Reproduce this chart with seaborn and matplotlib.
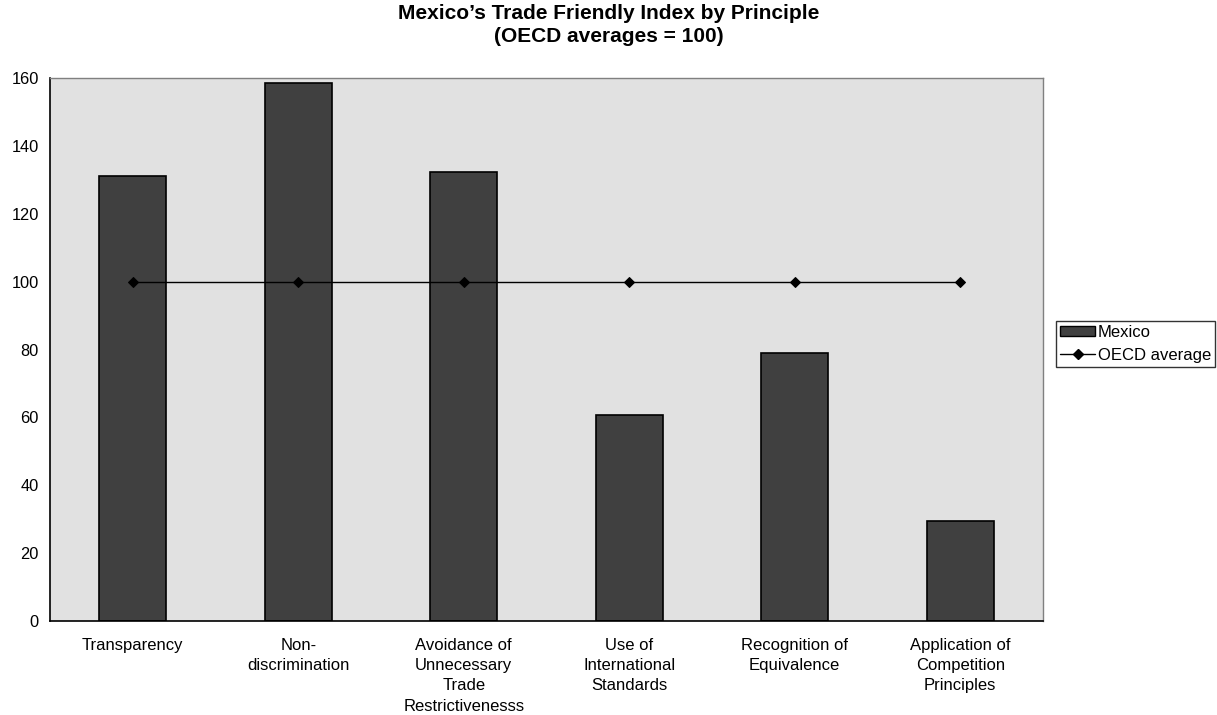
import pandas as pd
import matplotlib.pyplot as plt
import seaborn as sns
from matplotlib.lines import Line2D
from matplotlib.patches import Patch

# Data
principles = ['Transparency', 'Non-\ndiscrimination', 'Avoidance of\nUnnecessary\nTrade\nRestrictivenesss',
              'Use of\nInternational\nStandards', 'Recognition of\nEquivalence',
              'Application of\nCompetition\nPrinciples']
mexico = [131.0, 158.5, 132.3, 60.7, 78.9, 29.5]
oecd_average = [100, 100, 100, 100, 100, 100]

df = pd.DataFrame({'principle': principles, 'Mexico': mexico, 'OECD average': oecd_average})

sns.set_style('white', {'text.color': 'black', 'xtick.color': 'black', 'ytick.color': 'black'})
plt.rcParams['font.family'] = ['Liberation Sans', 'DejaVu Sans']

fig = plt.figure(figsize=(12.17, 7.15), dpi=100)
ax = fig.add_axes([50 / 1217, 94 / 715, 993 / 1217, 543 / 715])
ax.set_facecolor('#e1e1e1')

# Mexico bars
sns.barplot(data=df, x='principle', y='Mexico', ax=ax, color='#404040', width=0.405,
            edgecolor='black', linewidth=1.2, saturation=1)

# OECD average line
sns.lineplot(x=list(range(len(principles))), y=df['OECD average'], ax=ax, color='black',
             linewidth=1.0, marker='D', markersize=5, markeredgecolor='black')

ax.set_xlim(-0.5, len(principles) - 0.5)
ax.set_ylim(0, 160)
ax.set_yticks(range(0, 161, 20))
ax.set_xlabel('')
ax.set_ylabel('')

# Excel-style ticks: category boundaries on x, crossing ticks on y
ax.set_xticks(range(len(principles)))
ax.set_xticklabels(principles, fontsize=12, linespacing=1.45, va='top', color='black')
ax.tick_params(axis='x', which='major', length=0, pad=12)
ax.set_xticks([i - 0.5 for i in range(len(principles) + 1)], minor=True)
ax.tick_params(axis='x', which='minor', length=6, width=1, color='black', direction='out')
ax.tick_params(axis='y', length=6, width=1, color='black', labelcolor='black', direction='inout',
               labelsize=11.8, pad=5)

for side in ['left', 'bottom']:
    ax.spines[side].set_color('black')
    ax.spines[side].set_linewidth(1.2)
for side in ['top', 'right']:
    ax.spines[side].set_color('#808080')
    ax.spines[side].set_linewidth(1)

fig.suptitle("Mexico\u2019s Trade Friendly Index by Principle\n(OECD averages = 100)",
             x=0.5, y=1 - 4 / 715, va='top', fontsize=15, fontweight='bold', linespacing=1.25,
             color='black')

handles = [Patch(facecolor='#404040', edgecolor='black', label='Mexico'),
           Line2D([0], [0], color='black', linewidth=1.0, marker='D', markersize=5, label='OECD average')]
leg = fig.legend(handles=handles, loc='upper left', bbox_to_anchor=(1056 / 1217, 1 - 321 / 715),
                 fontsize=12, frameon=True, fancybox=False, borderpad=0.25, handlelength=2.1,
                 handleheight=0.55, handletextpad=0.15, labelspacing=0.45, borderaxespad=0)
leg.get_frame().set_edgecolor('black')
leg.get_frame().set_linewidth(1)

plt.savefig('out.png', dpi=100)
